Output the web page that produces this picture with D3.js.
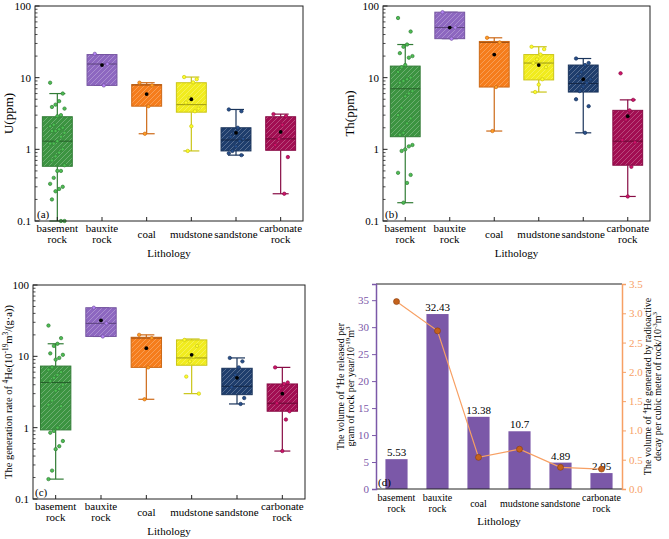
<!DOCTYPE html>
<html>
<head>
<meta charset="utf-8">
<script src="https://cdn.jsdelivr.net/npm/d3@7"></script>
<style>
body { margin: 0; background: #fff; }
svg text { font-family: "Liberation Serif", "Times New Roman", serif; }
</style>
</head>
<body>
<script>
var categories = ["basement rock", "bauxite rock", "coal", "mudstone", "sandstone", "carbonate rock"];

// box stats per lithology: [low whisker, q1, median, q3, high whisker, mean]
var uBoxes = [
  [0.1, 0.58, 1.3, 2.85, 6.0, null],
  [7.8, 7.8, 15.5, 21, 21, 15],
  [1.65, 4.0, 7.9, 8.0, 8.5, 5.9],
  [0.95, 3.3, 4.2, 8.5, 10.2, 5.0],
  [0.83, 0.95, 1.35, 2.0, 3.6, 1.7],
  [0.24, 0.97, 1.4, 2.85, 3.1, 1.75]
];
var uPoints = [
  [8.5, 6.0, 4.7, 4.2, 3.9, 3.7, 3.0, 2.9, 2.2, 2.1, 2.0, 1.9, 1.8, 1.8, 1.7, 1.5, 1.3, 1.2, 1.2, 1.0, 0.9, 0.8, 0.7, 0.6, 0.5, 0.5, 0.4, 0.33, 0.3, 0.28, 0.26, 0.2, 0.1, 0.1],
  [21.5, 15.5, 7.8],
  [8.5, 7.8, 4.0, 1.65],
  [10.2, 9.5, 8.6, 5.2, 4.5, 3.7, 3.4, 2.1, 0.95],
  [3.6, 3.4, 2.0, 1.7, 1.5, 1.4, 1.3, 1.1, 0.95, 0.88, 0.83],
  [3.1, 2.9, 2.2, 1.4, 1.15, 0.78, 0.24]
];

var thBoxes = [
  [0.18, 1.5, 7.0, 14.5, 29, null],
  [35, 35, 50, 82, 82, 50],
  [1.8, 7.4, 31, 32, 36, 21],
  [6.3, 9.3, 16, 21, 27, 15],
  [1.7, 6.3, 8.3, 15, 18.5, 9.5],
  [0.22, 0.6, 1.3, 3.5, 4.9, 2.9]
];
var thPoints = [
  [68, 44, 29, 27, 22, 20, 19, 15, 14, 12, 10, 9.5, 9, 8.5, 6.5, 6.0, 5.5, 3.8, 3.0, 2.7, 2.3, 1.7, 1.6, 1.15, 1.1, 1.0, 0.95, 0.47, 0.44, 0.34, 0.18],
  [82, 50, 35],
  [36, 31, 7.4, 1.8],
  [27, 25, 21, 18, 16, 14, 9.5, 8, 6.3],
  [18.5, 16, 15, 12, 10.5, 9.5, 8.5, 7.5, 6.5, 5, 4, 1.7],
  [11.5, 4.9, 3.5, 2.6, 1.35, 1.25, 0.57, 0.22]
];

var heBoxes = [
  [0.19, 0.93, 4.3, 7.3, 15, null],
  [19, 19, 29, 48, 48, 32],
  [2.5, 7, 18, 18.5, 20, 13],
  [3, 7.5, 9.5, 17, 17.5, 10.5],
  [2.15, 2.9, 3.8, 6.8, 9.5, 5],
  [0.47, 1.7, 2.2, 4.1, 7, 3]
];
var hePoints = [
  [27, 18, 15, 14, 11, 10.5, 9.5, 9, 7, 6.5, 6, 5.5, 5, 4.5, 4, 3.5, 3.3, 2.4, 2.1, 2.0, 1.0, 0.9, 0.85, 0.65, 0.55, 0.5, 0.25, 0.19],
  [48, 29, 19],
  [20, 18, 7, 2.5],
  [17, 14, 10, 8.5, 5.2, 3],
  [9.5, 8.5, 7, 5.5, 3.7, 2.6, 2.15],
  [7, 4.3, 4.1, 3.6, 2.2, 1.7, 1.3, 0.47]
];

var logTicks = [0.1, 1, 10, 100];
var logTickLabels = ["0.1", "1", "10", "100"];

var releasedPerGram = [5.53, 32.43, 13.38, 10.7, 4.89, 2.95];
var releasedLabels = ["5.53", "32.43", "13.38", "10.7", "4.89", "2.95"];
var generatedPerM3 = [3.2, 2.7, 0.54, 0.68, 0.37, 0.34];
var leftTicks = [0, 5, 10, 15, 20, 25, 30, 35];
var rightTicks = [0, 0.5, 1.0, 1.5, 2.0, 2.5, 3.0, 3.5];

var boxColors = ["#3c9441", "#8d67c0", "#f57d1c", "#f1ec1e", "#1f3e6d", "#a20e52"];
var serif = "'Liberation Serif', 'Times New Roman', serif";

var svg = d3.select("body").append("svg")
  .attr("width", 669)
  .attr("height", 539)
  .attr("font-family", serif);

var defs = svg.append("defs");
boxColors.forEach(function(c, i) {
  var p = defs.append("pattern")
    .attr("id", "hatch" + i)
    .attr("patternUnits", "userSpaceOnUse")
    .attr("width", 5)
    .attr("height", 5);
  p.append("rect").attr("width", 5).attr("height", 5).attr("fill", c);
  p.append("path")
    .attr("d", "M-1,1 l2,-2 M0,5 l5,-5 M4,6 l2,-2")
    .attr("stroke", "rgba(255,255,255,0.25)")
    .attr("stroke-width", 1);
});

// text with superscripts: parts = [[text, isSup], ...]
function richText(sel, parts) {
  parts.forEach(function(p) {
    var t = sel.append("tspan").text(p[0]);
    if (p[1]) t.attr("baseline-shift", "super").style("font-size", "70%");
  });
  return sel;
}

function categoryLabels(g, center, xa, xb, y1, dy, size) {
  categories.forEach(function(c) {
    var words = c.split(" ");
    var cx = center(c);
    if (words.length === 1) {
      g.append("text").attr("x", cx).attr("y", y1 + dy + 6)
        .attr("text-anchor", "middle").style("font-size", size + "px").text(c);
    } else {
      g.append("text").attr("x", cx).attr("y", y1 + dy)
        .attr("text-anchor", "middle").style("font-size", size + "px").text(words[0]);
      g.append("text").attr("x", cx).attr("y", y1 + dy + 11)
        .attr("text-anchor", "middle").style("font-size", size + "px").text(words[1]);
    }
  });
  g.append("text").attr("x", (xa + xb) / 2).attr("y", y1 + 36)
    .attr("text-anchor", "middle").style("font-size", "11px").text("Lithology");
}

function boxPanel(opt) {
  var x0 = opt.x0, x1 = opt.x1, y0 = opt.y0, y1 = opt.y1;
  var g = svg.append("g");
  var x = d3.scaleBand().domain(categories).range([x0, x1]);
  var y = d3.scaleLog().domain([0.1, 100]).range([y1, y0]);
  var bw = x.bandwidth() * 0.67;
  var center = function(c) { return x(c) + x.bandwidth() / 2; };

  opt.boxes.forEach(function(b, i) {
    var c = boxColors[i];
    var dk = d3.color(c).darker(0.5).toString();
    var cx = center(categories[i]);
    // whiskers
    g.append("line").attr("x1", cx).attr("x2", cx).attr("y1", y(b[0])).attr("y2", y(b[1]))
      .attr("stroke", dk).attr("stroke-width", 1.2);
    g.append("line").attr("x1", cx).attr("x2", cx).attr("y1", y(b[3])).attr("y2", y(b[4]))
      .attr("stroke", dk).attr("stroke-width", 1.2);
    [b[0], b[4]].forEach(function(v) {
      g.append("line").attr("x1", cx - 8).attr("x2", cx + 8).attr("y1", y(v)).attr("y2", y(v))
        .attr("stroke", dk).attr("stroke-width", 1.2);
    });
    g.append("rect")
      .attr("x", cx - bw / 2).attr("width", bw)
      .attr("y", y(b[3])).attr("height", y(b[1]) - y(b[3]))
      .attr("fill", "url(#hatch" + i + ")")
      .attr("stroke", dk).attr("stroke-width", 1);
    g.append("line").attr("x1", cx - bw / 2).attr("x2", cx + bw / 2)
      .attr("y1", y(b[2])).attr("y2", y(b[2]))
      .attr("stroke", d3.color(c).darker(1.2).toString()).attr("stroke-width", 1);
    // points
    opt.points[i].forEach(function(v, j) {
      var off = ((j * 7) % 9 - 4) * 1.8;
      g.append("circle").attr("cx", cx + off).attr("cy", y(v)).attr("r", 1.7)
        .attr("fill", d3.color(c).brighter(0.7).toString())
        .attr("stroke", dk).attr("stroke-width", 0.7);
    });
    if (b[5] !== null) {
      g.append("circle").attr("cx", cx).attr("cy", y(b[5])).attr("r", 1.9).attr("fill", "#000");
    }
  });

  // frame
  g.append("rect").attr("x", x0).attr("y", y0).attr("width", x1 - x0).attr("height", y1 - y0)
    .attr("fill", "none").attr("stroke", "#222").attr("stroke-width", 1);

  // log ticks, inward
  var minor = [];
  [0.1, 1, 10].forEach(function(d) {
    for (var k = 2; k <= 9; k++) minor.push(d * k);
  });
  minor.forEach(function(v) {
    g.append("line").attr("x1", x0).attr("x2", x0 + 2.5).attr("y1", y(v)).attr("y2", y(v))
      .attr("stroke", "#222").attr("stroke-width", 0.8);
  });
  logTicks.forEach(function(v, i) {
    g.append("line").attr("x1", x0).attr("x2", x0 + 4.5).attr("y1", y(v)).attr("y2", y(v))
      .attr("stroke", "#222").attr("stroke-width", 1);
    g.append("text").attr("x", x0 - 4).attr("y", y(v) + 4)
      .attr("text-anchor", "end").style("font-size", "11px").text(logTickLabels[i]);
  });
  categories.forEach(function(c) {
    var cx = center(c);
    g.append("line").attr("x1", cx).attr("x2", cx).attr("y1", y1).attr("y2", y1 - 4)
      .attr("stroke", "#222").attr("stroke-width", 1);
  });

  categoryLabels(g, center, x0, x1, y1, 11, 11);

  g.append("text").attr("x", x0 + 2).attr("y", y1 - 3).style("font-size", "11px").text(opt.tag);

  var title = g.append("text")
    .attr("transform", "translate(" + opt.titleX + "," + (y0 + y1) / 2 + ") rotate(-90)")
    .attr("text-anchor", "middle").style("font-size", opt.titleSize + "px");
  richText(title, opt.title);
}

boxPanel({ x0: 35, x1: 303, y0: 6, y1: 221, boxes: uBoxes, points: uPoints, tag: "(a)",
  titleX: 13, titleSize: 13, title: [["U(ppm)", false]] });
boxPanel({ x0: 383, x1: 650, y0: 6, y1: 221, boxes: thBoxes, points: thPoints, tag: "(b)",
  titleX: 354, titleSize: 13, title: [["Th(ppm)", false]] });
boxPanel({ x0: 33, x1: 305, y0: 285, y1: 499, boxes: heBoxes, points: hePoints, tag: "(c)",
  titleX: 12, titleSize: 10.5,
  title: [["The generation rate of ", false], ["4", true], ["He(10", false], ["-19", true], ["m", false], ["3", true], ["/(g\u00b7a))", false]] });

// panel (d): bars + line on dual axes
(function() {
  var x0 = 376, x1 = 622, y0 = 284, y1 = 489;
  var purple = "#7b58a8", orange = "#f7a064", orangeDark = "#c4621c";
  var g = svg.append("g");
  var x = d3.scaleBand().domain(categories).range([x0, x1]).paddingInner(0.46).paddingOuter(0.23);
  var xc = d3.scalePoint().domain(categories).range([x0, x1]).padding(0.5);
  var yl = d3.scaleLinear().domain([0, 38]).range([y1, y0]);
  var yr = d3.scaleLinear().domain([0, 3.5]).range([y1, y0]);

  g.selectAll("rect.bar").data(releasedPerGram).enter().append("rect")
    .attr("class", "bar")
    .attr("x", function(d, i) { return xc(categories[i]) - x.bandwidth() / 2; })
    .attr("width", x.bandwidth())
    .attr("y", function(d) { return yl(d); })
    .attr("height", function(d) { return y1 - yl(d); })
    .attr("fill", purple);

  g.selectAll("text.val").data(releasedPerGram).enter().append("text")
    .attr("class", "val")
    .attr("x", function(d, i) { return xc(categories[i]); })
    .attr("y", function(d) { return yl(d) - 3; })
    .attr("text-anchor", "middle").style("font-size", "11px")
    .text(function(d, i) { return releasedLabels[i]; });

  var line = d3.line()
    .x(function(d, i) { return xc(categories[i]); })
    .y(function(d) { return yr(d); });
  g.append("path").datum(generatedPerM3).attr("d", line)
    .attr("fill", "none").attr("stroke", orange).attr("stroke-width", 1.2);
  g.selectAll("circle.pt").data(generatedPerM3).enter().append("circle")
    .attr("class", "pt")
    .attr("cx", function(d, i) { return xc(categories[i]); })
    .attr("cy", function(d) { return yr(d); })
    .attr("r", 3)
    .attr("fill", orangeDark).attr("stroke", "#8a3d0c").attr("stroke-width", 0.6);

  // top/bottom frame
  g.append("line").attr("x1", x0).attr("x2", x1).attr("y1", y0).attr("y2", y0).attr("stroke", "#222");
  g.append("line").attr("x1", x0).attr("x2", x1).attr("y1", y1).attr("y2", y1).attr("stroke", "#222");

  var la = g.append("g").attr("transform", "translate(" + x0 + ",0)")
    .call(d3.axisLeft(yl).tickValues(leftTicks).tickSize(4).tickFormat(d3.format("d")));
  la.selectAll("path, line").attr("stroke", purple);
  la.selectAll("text").attr("fill", purple).style("font-size", "11px").style("font-family", serif);
  la.select(".domain").attr("stroke-width", 1.5);

  var ra = g.append("g").attr("transform", "translate(" + x1 + ",0)")
    .call(d3.axisRight(yr).tickValues(rightTicks).tickSize(4).tickFormat(d3.format(".1f")));
  ra.selectAll("path, line").attr("stroke", orange);
  ra.selectAll("text").attr("fill", orange).style("font-size", "11px").style("font-family", serif);
  ra.select(".domain").attr("stroke-width", 1.5);

  categoryLabels(g, xc, x0, x1, y1, 12, 10);

  g.append("text").attr("x", x0 + 2).attr("y", y1 - 3).style("font-size", "11px").text("(d)");

  var mid = (y0 + y1) / 2;
  var lt1 = g.append("text").attr("transform", "translate(344," + mid + ") rotate(-90)")
    .attr("text-anchor", "middle").style("font-size", "10px");
  richText(lt1, [["The volume of ", false], ["4", true], ["He released per", false]]);
  var lt2 = g.append("text").attr("transform", "translate(354," + mid + ") rotate(-90)")
    .attr("text-anchor", "middle").style("font-size", "10px");
  richText(lt2, [["gram of rock per year/10", false], ["-19", true], ["m", false], ["3", true]]);

  var rt1 = g.append("text").attr("transform", "translate(651," + mid + ") rotate(-90)")
    .attr("text-anchor", "middle").style("font-size", "10px");
  richText(rt1, [["The volume of ", false], ["4", true], ["He generated by radioactive", false]]);
  var rt2 = g.append("text").attr("transform", "translate(661," + mid + ") rotate(-90)")
    .attr("text-anchor", "middle").style("font-size", "10px");
  richText(rt2, [["decay per cubic meter of rock/10", false], ["-3", true], ["m", false], ["3", true]]);
})();
</script>
</body>
</html>
